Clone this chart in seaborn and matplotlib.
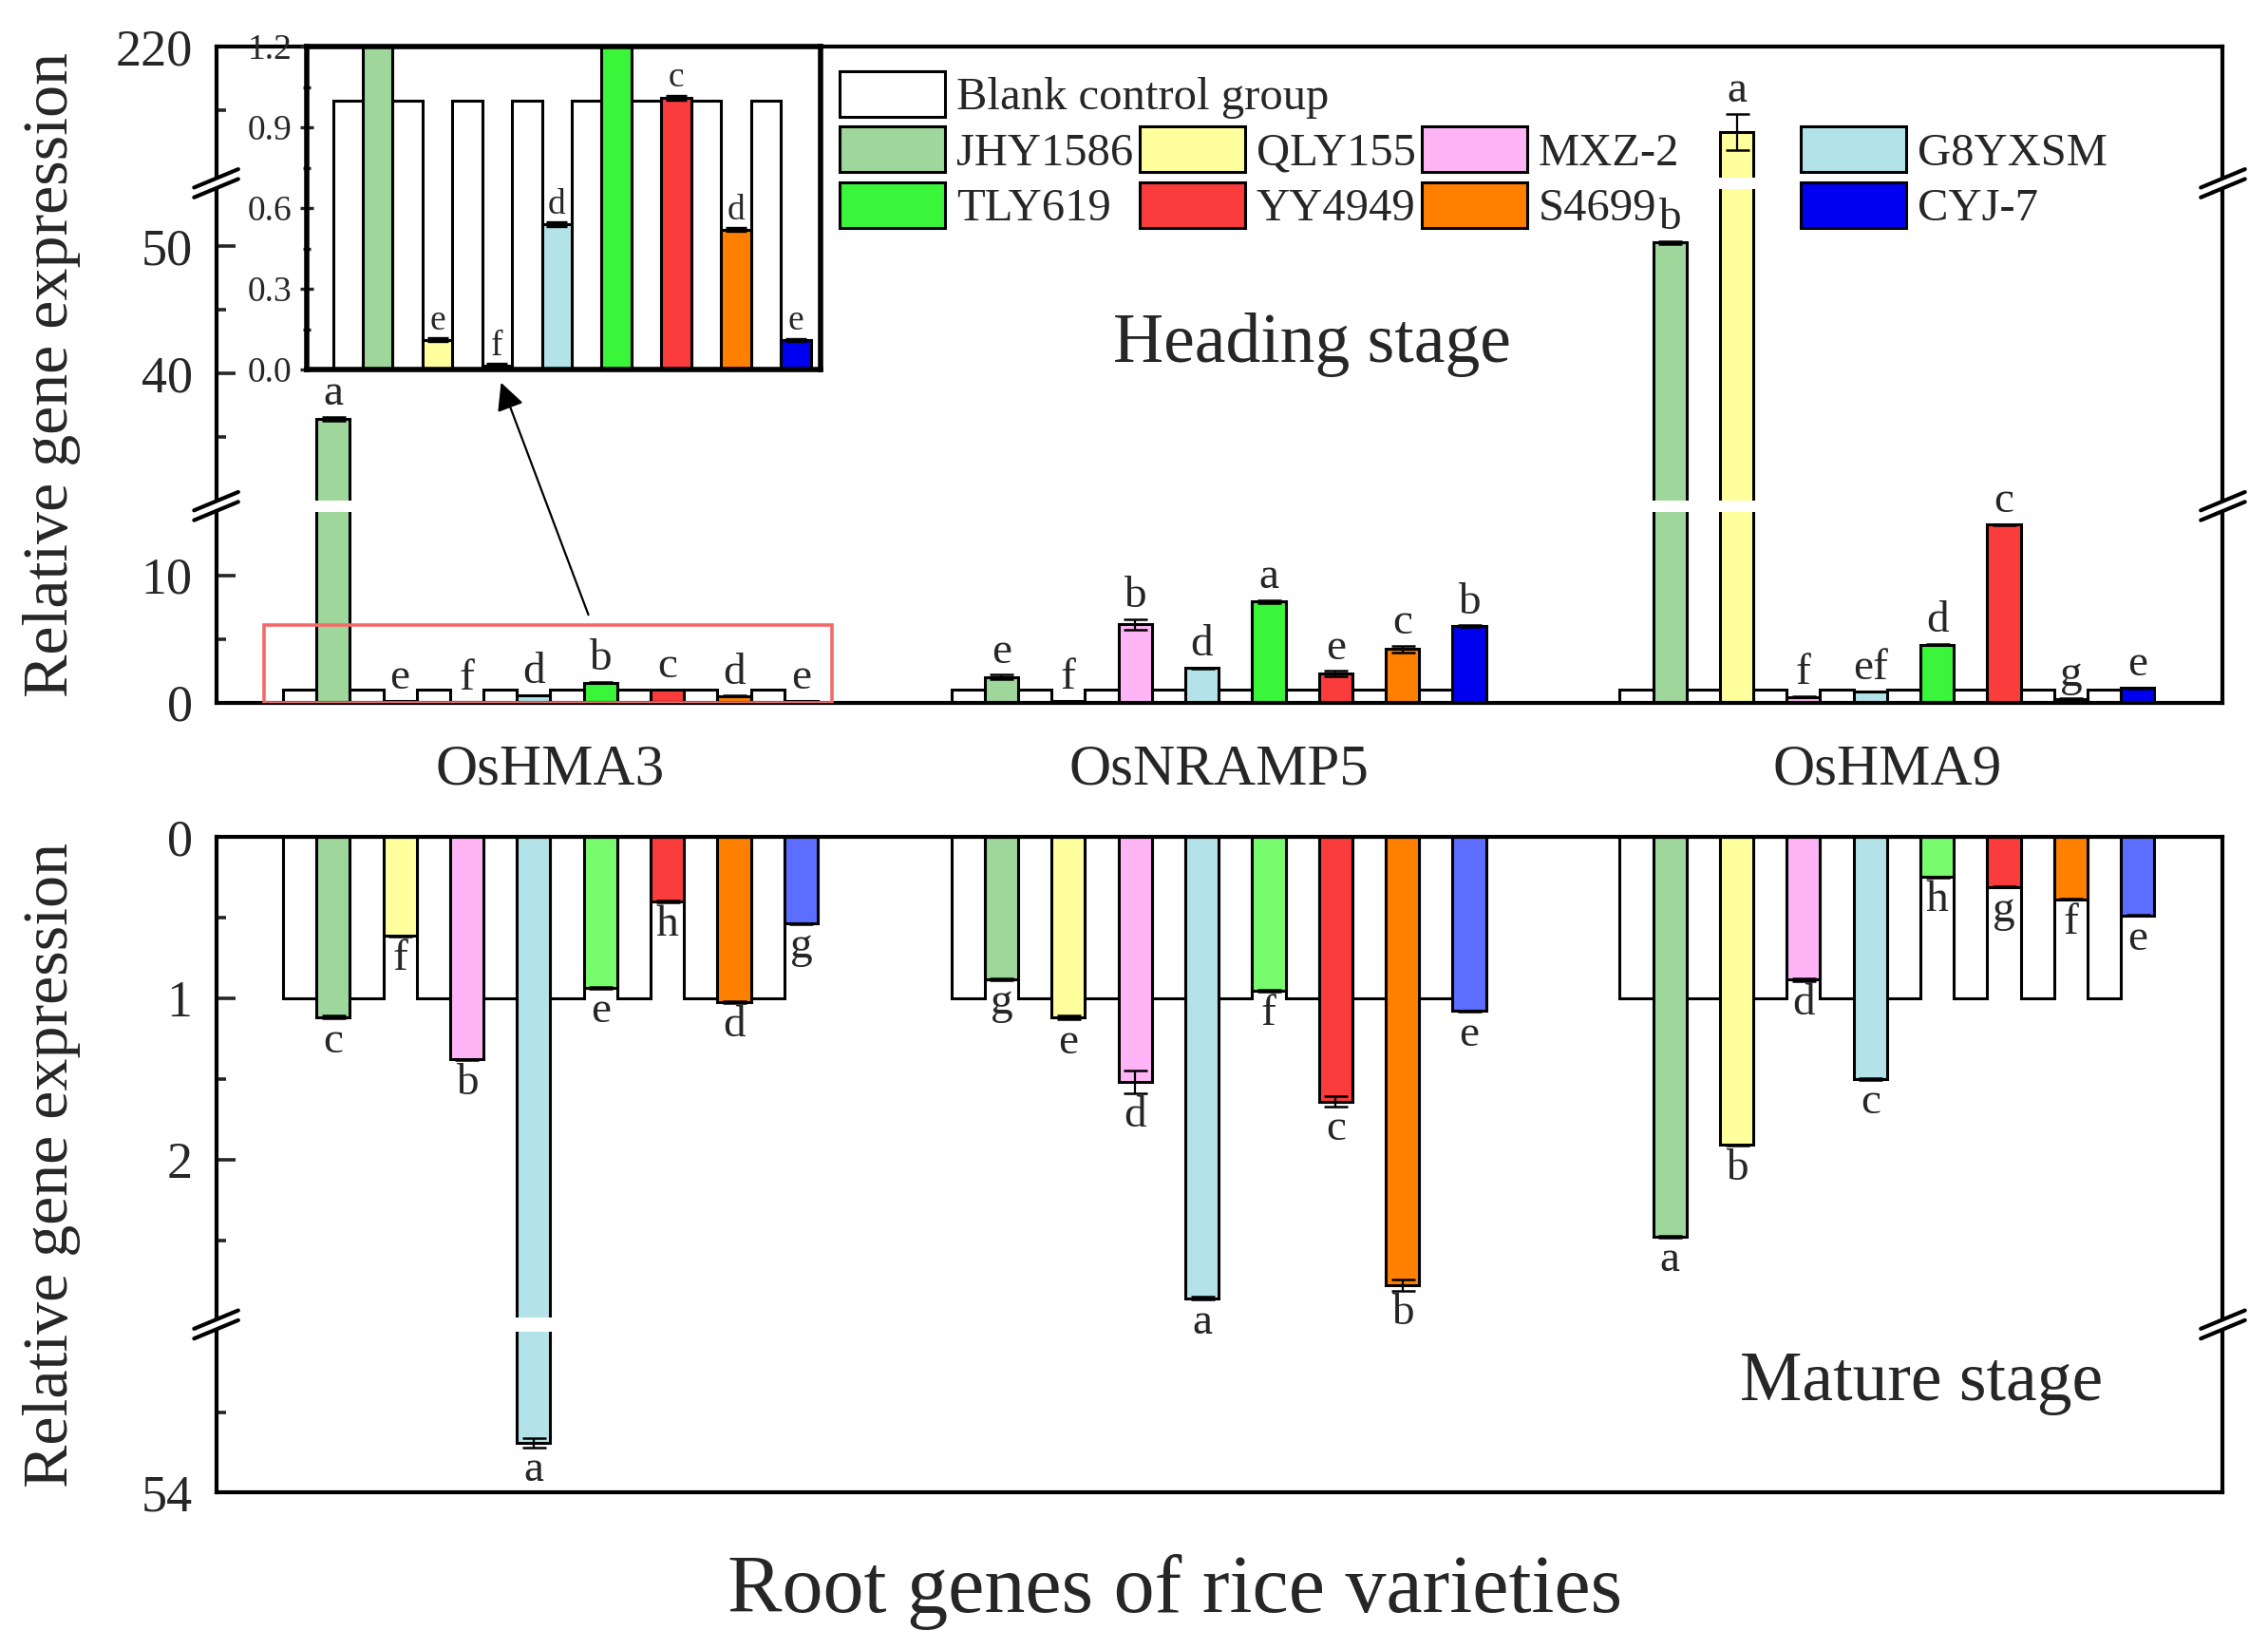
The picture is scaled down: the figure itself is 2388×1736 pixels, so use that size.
import numpy as np
import pandas as pd
import matplotlib
matplotlib.use("Agg")
import matplotlib.pyplot as plt
from matplotlib.patches import Patch, Rectangle, Polygon
import seaborn as sns

# ---------------- data ----------------
genes = ["OsHMA3", "OsNRAMP5", "OsHMA9"]
varieties = ["JHY1586", "QLY155", "MXZ-2", "G8YXSM", "TLY619", "YY4949", "S4699", "CYJ-7"]
control_name = "Blank control group"
control_value = 1.0

# heading stage
head_hma3 = [36.4, 0.11, 0.016, 0.54, 1.57, 1.01, 0.52, 0.11]
head_nramp5 = [2.0, 0.08, 6.15, 2.7, 7.95, 2.27, 4.2, 6.0]
head_hma9 = [50.3, 213.3, 0.45, 0.85, 4.55, 14.0, 0.3, 1.15]
head_hma3_sd = [0.15, 0.005, 0.005, 0.006, 0.02, 0.008, 0.006, 0.004]
head_nramp5_sd = [0.18, 0.02, 0.42, 0.04, 0.1, 0.2, 0.25, 0.06]
head_hma9_sd = [0.1, 1.4, 0.02, 0.02, 0.05, 0.05, 0.02, 0.03]
head_hma3_sig = ["a", "e", "f", "d", "b", "c", "d", "e"]
head_nramp5_sig = ["e", "f", "b", "d", "a", "e", "c", "b"]
head_hma9_sig = ["b", "a", "f", "ef", "d", "c", "g", "e"]

# mature stage
mat_hma3 = [1.117, 0.614, 1.38, 53.69, 0.937, 0.40, 1.023, 0.537]
mat_nramp5 = [0.885, 1.12, 1.52, 2.86, 0.954, 1.64, 2.78, 1.08]
mat_hma9 = [2.48, 1.91, 0.886, 1.5, 0.25, 0.31, 0.386, 0.486]
mat_hma3_sd = [0.01, 0.004, 0.005, 0.03, 0.004, 0.004, 0.005, 0.004]
mat_nramp5_sd = [0.005, 0.012, 0.07, 0.01, 0.005, 0.03, 0.035, 0.005]
mat_hma9_sd = [0.005, 0.005, 0.01, 0.005, 0.004, 0.004, 0.004, 0.004]
mat_hma3_sig = ["c", "f", "b", "a", "e", "h", "d", "g"]
mat_nramp5_sig = ["g", "e", "d", "a", "f", "c", "b", "e"]
mat_hma9_sig = ["a", "b", "d", "c", "h", "g", "f", "e"]

head_colors = ["#FFFFFF", "#9FD69B", "#FFFF9E", "#FFB5F5", "#B3E3E8",
               "#3BF53B", "#FA3C3C", "#FF8000", "#0000F0"]
mat_colors = ["#FFFFFF", "#9FD69B", "#FFFF9E", "#FFB5F5", "#B3E3E8",
              "#78FC6E", "#FA3C3C", "#FF8000", "#5B6EFF"]


def build_frame(vals, sds, sigs):
    rows = []
    for g, gene in enumerate(genes):
        for i, v in enumerate(varieties):
            base = g * 20 + 2 * i
            rows.append(dict(gene=gene, series=control_name, pos=base,
                             value=control_value, sd=0.0, sig=""))
            rows.append(dict(gene=gene, series=v, pos=base + 1,
                             value=vals[g][i], sd=sds[g][i], sig=sigs[g][i]))
    return pd.DataFrame(rows)


df_head = build_frame([head_hma3, head_nramp5, head_hma9],
                      [head_hma3_sd, head_nramp5_sd, head_hma9_sd],
                      [head_hma3_sig, head_nramp5_sig, head_hma9_sig])
df_mat = build_frame([mat_hma3, mat_nramp5, mat_hma9],
                     [mat_hma3_sd, mat_nramp5_sd, mat_hma9_sd],
                     [mat_hma3_sig, mat_nramp5_sig, mat_hma9_sig])

order = [control_name] + varieties
pal_head = dict(zip(order, head_colors))
pal_mat = dict(zip(order, mat_colors))

# broken axes as piecewise linear scales
top_d = [-1000, 0, 15, 30, 54.5, 209.7, 220, 5000]
top_t = [-1000, 0, 15, 15.9, 40.4, 41.3, 51.6, 4831.6]
bot_d = [-100, 0, 2.98, 53.0, 54, 200]
bot_t = [-100, 0, 2.98, 3.065, 4.065, 150.065]


def make_funcs(d, t):
    d = np.asarray(d, float)
    t = np.asarray(t, float)
    return (lambda y: np.interp(y, d, t)), (lambda y: np.interp(y, t, d))


top_fwd, top_inv = make_funcs(top_d, top_t)
bot_fwd, bot_inv = make_funcs(bot_d, bot_t)

# ---------------- style ----------------
sns.set_theme(style="ticks")
plt.rcParams["font.family"] = ["Liberation Serif", "DejaVu Serif"]
plt.rcParams["axes.linewidth"] = 1.5
plt.rcParams["axes.edgecolor"] = "black"

fig = plt.figure(figsize=(11.94, 8.68), dpi=200)
ax_top = fig.add_axes([0.0953, 0.574, 0.8848, 0.3977])
ax_bot = fig.add_axes([0.0953, 0.0948, 0.8848, 0.3977])

bar_kw = dict(x="pos", y="value", hue="series", hue_order=order, native_scale=True,
              dodge=False, width=1, edgecolor="black", linewidth=1.1, saturation=1,
              errorbar=None, legend=False)
sns.barplot(data=df_head, palette=pal_head, ax=ax_top, **bar_kw)
sns.barplot(data=df_mat, palette=pal_mat, ax=ax_bot, **bar_kw)

ax_top.set_yscale("function", functions=(top_fwd, top_inv))
ax_bot.set_yscale("function", functions=(bot_fwd, bot_inv))
ax_top.set_ylim(0, 220)
ax_bot.set_ylim(54, 0)
for ax in (ax_top, ax_bot):
    ax.set_xlim(-2.5, 57.55)
    ax.set_xlabel("")
    for s in ax.spines.values():
        s.set_linewidth(1.5)
    ax.tick_params(axis="y", which="major", direction="in", length=7.2, width=1.3,
                   labelsize=19.5, pad=9, right=False)
    ax.tick_params(axis="y", which="minor", direction="in", length=3.6, width=1.3, right=False)

ax_top.set_yticks([0, 10, 40, 50, 220])
ax_top.set_yticks([5, 35, 45, 215], minor=True)
ax_bot.set_yticks([0, 1, 2, 54])
ax_bot.set_yticks([0.5, 1.5, 2.5, 53.5], minor=True)

ax_top.set_xticks([7.5, 27.5, 47.5])
ax_top.set_xticklabels(genes)
ax_top.tick_params(axis="x", length=0, pad=15.5, labelsize=22)
ax_bot.set_xticks([])

ax_top.set_ylabel("Relative gene expression", fontsize=24.5)
ax_bot.set_ylabel("Relative gene expression", fontsize=24.5)
ax_top.yaxis.set_label_coords(-0.0677, 0.5)
ax_bot.yaxis.set_label_coords(-0.0677, 0.5)


def add_err_and_letters(ax, df, down, fs, pad):
    sub = df[df.series != control_name]
    ax.errorbar(sub.pos, sub.value, yerr=sub.sd, fmt="none", ecolor="black",
                elinewidth=0.8, capsize=4.5, capthick=0.9, zorder=3)
    for _, r in sub.iterrows():
        ax.annotate(r.sig, (r.pos, r.value + r.sd), xytext=(0, -pad if down else pad),
                    textcoords="offset points", ha="center",
                    va="top" if down else "bottom", fontsize=fs, zorder=4)


add_err_and_letters(ax_top, df_head, False, 17, 1)
add_err_and_letters(ax_bot, df_mat, True, 17, 1)


def gap_strips(ax, df, lo, hi):
    for _, r in df[df.value > lo].iterrows():
        ax.add_patch(Rectangle((r.pos - 0.6, lo), 1.2, hi - lo, facecolor="white",
                               edgecolor="none", zorder=6))


gap_strips(ax_top, df_head, 15, 30)
gap_strips(ax_top, df_head, 54.5, 209.7)
gap_strips(ax_bot, df_mat, 2.98, 53.0)


def break_marks(ax, yfrac):
    dx, dy, sep = 0.011, 0.014, 0.0075
    for x in (0, 1):
        ax.add_patch(Polygon([(x - dx, yfrac - dy - sep), (x + dx, yfrac + dy - sep),
                              (x + dx, yfrac + dy + sep), (x - dx, yfrac - dy + sep)],
                             closed=True, transform=ax.transAxes, facecolor="white",
                             edgecolor="none", clip_on=False, zorder=10))
        for s in (-sep, sep):
            ax.plot([x - dx, x + dx], [yfrac - dy + s, yfrac + dy + s], transform=ax.transAxes,
                    color="black", lw=1.5, clip_on=False, zorder=11)


top_span = top_fwd(220) - top_fwd(0)
break_marks(ax_top, ((15 + 15.9) / 2) / top_span)
break_marks(ax_top, ((40.4 + 41.3) / 2) / top_span)
# bottom panel is inverted: 54 sits at the axes bottom
bot_span = bot_fwd(54) - bot_fwd(0)
break_marks(ax_bot, (bot_fwd(54) - (2.98 + 3.065) / 2) / bot_span)

ax_top.text(0.546, 0.546, "Heading stage", transform=ax_top.transAxes,
            ha="center", va="center", fontsize=26.5)
ax_bot.text(0.850, 0.167, "Mature stage", transform=ax_bot.transAxes,
            ha="center", va="center", fontsize=26.5)

# zoom box + arrow
ax_top.add_patch(Rectangle((-1.06, 0), 17.0, 6.1, fill=False, edgecolor="#F26B6B",
                           lw=1.3, zorder=5))
ax_top.annotate("", xy=(0.2209, 0.768), xycoords="figure fraction",
                xytext=(8.64, 6.9), textcoords="data",
                arrowprops=dict(arrowstyle="-|>", color="black", lw=0.8,
                                mutation_scale=22, shrinkA=0, shrinkB=0), zorder=7)

# inset of OsHMA3 heading values
ax_in = fig.add_axes([0.1352, 0.7759, 0.2267, 0.1958])
df_in = df_head[df_head.gene == "OsHMA3"]
sns.barplot(data=df_in, palette=pal_head, ax=ax_in, **bar_kw)
ax_in.set_xlim(-1.38, 15.84)
ax_in.set_ylim(0, 1.2)
ax_in.set_xlabel("")
ax_in.set_ylabel("")
ax_in.set_xticks([])
ax_in.set_yticks([0, 0.3, 0.6, 0.9, 1.2])
ax_in.set_yticks(np.arange(0.15, 1.2, 0.3), minor=True)
ax_in.tick_params(axis="y", which="major", direction="inout", length=5, width=1.2,
                  labelsize=13.5, pad=3)
ax_in.tick_params(axis="y", which="minor", direction="inout", length=3, width=1.2)
for s in ax_in.spines.values():
    s.set_linewidth(2.0)
sub_in = df_in[(df_in.series != control_name) & (df_in.value < 1.15)]
ax_in.errorbar(sub_in.pos, sub_in.value, yerr=sub_in.sd, fmt="none", ecolor="black",
               elinewidth=0.8, capsize=4, capthick=1.2, zorder=3)
for _, r in sub_in.iterrows():
    ax_in.annotate(r.sig, (r.pos, r.value + r.sd), xytext=(0, 0.5), textcoords="offset points",
                   ha="center", va="bottom", fontsize=13.5)

# legends
leg_kw = dict(loc="upper left", frameon=False, fontsize=17.5, handlelength=2.28,
              handleheight=1.15, handletextpad=0.25, labelspacing=0.17,
              columnspacing=0.13, borderpad=0, borderaxespad=0)


def handles(names):
    return [Patch(facecolor=pal_head[n], edgecolor="black", linewidth=1.1) for n in names]


fig.legend(handles([control_name]), [control_name], bbox_to_anchor=(0.3703, 0.957), **leg_kw)
mid_names = ["JHY1586", "TLY619", "QLY155", "YY4949", "MXZ-2", "S4699"]
fig.legend(handles(mid_names), mid_names, ncol=3, bbox_to_anchor=(0.3703, 0.9234), **leg_kw)
right_names = ["G8YXSM", "CYJ-7"]
fig.legend(handles(right_names), right_names, bbox_to_anchor=(0.794, 0.9234), **leg_kw)

fig.text(0.518, 0.0346, "Root genes of rice varieties", ha="center", va="center", fontsize=31)

fig.savefig("out.png", dpi=200)
